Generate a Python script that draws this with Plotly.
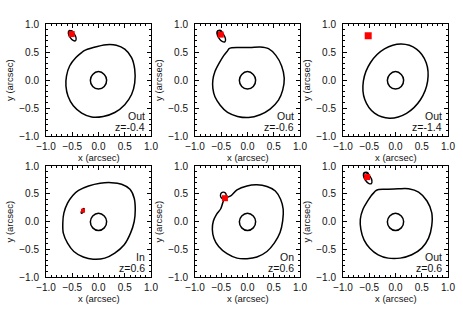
import plotly.graph_objects as go

# ---------------- data ----------------
tick_vals = [-1.0, -0.5, 0.0, 0.5, 1.0]
tick_text = ["\u22121.0", "\u22120.5", "0.0", "0.5", "1.0"]

panel_kind = ["Out", "Out", "Out", "In", "On", "Out"]
panel_z = ["z=-0.4", "z=-0.6", "z=-1.4", "z=0.6", "z=0.6", "z=0.6"]

# shared central (radial) curve
inner_x = [0.155, 0.110, 0.0, -0.110, -0.155, -0.110, 0.0, 0.110, 0.155]
inner_y = [0.0, 0.100, 0.150, 0.100, -0.005, -0.115, -0.160, -0.115, 0.0]

# panel 1 (Out, z=-0.4)
p1_outer_x = [-0.28, -0.10, 0.15, 0.34, 0.50, 0.63, 0.69, 0.69, 0.63, 0.50, 0.31, 0.09, -0.13, -0.32,
              -0.48, -0.58, -0.62, -0.61, -0.55, -0.43, -0.32, -0.28]
p1_outer_y = [0.52, 0.58, 0.63, 0.62, 0.55, 0.40, 0.19, -0.05, -0.26, -0.44, -0.58, -0.65, -0.66, -0.59,
              -0.46, -0.29, -0.11, 0.07, 0.25, 0.40, 0.49, 0.52]
p1_loop_x = [-0.437, -0.427, -0.459, -0.516, -0.563, -0.574, -0.541, -0.484, -0.437]
p1_loop_y = [0.700, 0.747, 0.819, 0.874, 0.880, 0.833, 0.761, 0.706, 0.700]
p1_ring_x = [-0.48, -0.492, -0.52, -0.548, -0.56, -0.548, -0.52, -0.492, -0.48]
p1_ring_y = [0.84, 0.868, 0.88, 0.868, 0.84, 0.812, 0.80, 0.812, 0.84]
p1_src = (-0.51, 0.82)

# panel 2 (Out, z=-0.6)
p2_outer_x = [-0.35, -0.30, -0.17, 0.05, 0.24, 0.40, 0.54, 0.65, 0.70, 0.67, 0.59, 0.43, 0.24, 0.02,
              -0.19, -0.38, -0.52, -0.62, -0.66, -0.66, -0.62, -0.54, -0.45, -0.38, -0.35]
p2_outer_y = [0.56, 0.575, 0.58, 0.58, 0.59, 0.56, 0.44, 0.25, 0.03, -0.18, -0.36, -0.52, -0.62, -0.67,
              -0.65, -0.58, -0.45, -0.30, -0.15, 0.00, 0.15, 0.30, 0.44, 0.52, 0.56]
p2_loop_x = [-0.431, -0.419, -0.455, -0.517, -0.569, -0.581, -0.545, -0.483, -0.431]
p2_loop_y = [0.682, 0.733, 0.812, 0.872, 0.878, 0.827, 0.748, 0.688, 0.682]
p2_ring_x = [-0.485, -0.498, -0.53, -0.562, -0.575, -0.562, -0.53, -0.498, -0.485]
p2_ring_y = [0.845, 0.877, 0.89, 0.877, 0.845, 0.813, 0.80, 0.813, 0.845]
p2_src = (-0.51, 0.81)

# panel 3 (Out, z=-1.4)
p3_outer_x = [0.40, 0.11, -0.21, -0.475, -0.612, -0.585, -0.40, -0.11, 0.21, 0.475, 0.612, 0.585, 0.40]
p3_outer_y = [0.553, 0.643, 0.555, 0.313, -0.019, -0.350, -0.593, -0.683, -0.595, -0.353, -0.021, 0.310, 0.553]
p3_src = (-0.52, 0.79)

# panel 4 (In, z=0.6)
p4_outer_x = [-0.38, -0.19, 0.03, 0.25, 0.44, 0.60, 0.68, 0.70, 0.68, 0.61, 0.49, 0.31, 0.12, -0.10,
              -0.29, -0.47, -0.59, -0.67, -0.68, -0.66, -0.59, -0.49, -0.38]
p4_outer_y = [0.56, 0.64, 0.69, 0.70, 0.67, 0.58, 0.42, 0.21, 0.00, -0.21, -0.42, -0.57, -0.66, -0.68,
              -0.64, -0.54, -0.39, -0.21, -0.03, 0.15, 0.33, 0.47, 0.56]
p4_blob_x = [-0.275, -0.294, -0.317, -0.330, -0.325, -0.306, -0.283, -0.270, -0.275]
p4_blob_y = [0.233, 0.227, 0.200, 0.167, 0.147, 0.153, 0.180, 0.213, 0.233]
p4_src = (-0.295, 0.195)

# panel 5 (On, z=0.6)
p5_outer_x = [-0.40, -0.32, -0.20, -0.01, 0.18, 0.37, 0.53, 0.63, 0.68, 0.67, 0.62, 0.51, 0.37, 0.18,
              -0.01, -0.20, -0.39, -0.55, -0.64, -0.67, -0.65, -0.59, -0.51, -0.47, -0.44, -0.40]
p5_outer_y = [0.43, 0.46, 0.57, 0.64, 0.66, 0.63, 0.55, 0.40, 0.22, 0.01, -0.20, -0.39, -0.54, -0.64,
              -0.67, -0.66, -0.58, -0.45, -0.30, -0.14, 0.01, 0.13, 0.23, 0.34, 0.41, 0.43]
p5_loop_x = [-0.405, -0.421, -0.46, -0.499, -0.515, -0.499, -0.46, -0.421, -0.405]
p5_loop_y = [0.47, 0.512, 0.53, 0.512, 0.47, 0.428, 0.41, 0.428, 0.47]
p5_src = (-0.43, 0.42)

# panel 6 (Out, z=0.6)
p6_outer_x = [-0.38, -0.32, -0.20, 0.05, 0.25, 0.44, 0.60, 0.69, 0.69, 0.63, 0.50, 0.31, 0.09, -0.14,
              -0.33, -0.49, -0.60, -0.66, -0.67, -0.62, -0.53, -0.46, -0.41, -0.38]
p6_outer_y = [0.55, 0.575, 0.58, 0.59, 0.59, 0.53, 0.37, 0.16, -0.08, -0.30, -0.48, -0.60, -0.66, -0.66,
              -0.60, -0.48, -0.33, -0.14, 0.04, 0.22, 0.37, 0.47, 0.52, 0.55]
p6_loop_x = [-0.461, -0.449, -0.485, -0.547, -0.599, -0.611, -0.575, -0.513, -0.461]
p6_loop_y = [0.682, 0.733, 0.812, 0.872, 0.878, 0.827, 0.748, 0.688, 0.682]
p6_ring_x = [-0.515, -0.528, -0.56, -0.592, -0.605, -0.592, -0.56, -0.528, -0.515]
p6_ring_y = [0.845, 0.877, 0.89, 0.877, 0.845, 0.813, 0.80, 0.813, 0.845]
p6_src = (-0.54, 0.80)

# ---------------- layout geometry (pixels) ----------------
W, H = 463, 309
col_px = [(46, 151), (195, 300), (343, 448)]
row_px = [(24, 136), (166, 277)]
FONT = "Liberation Sans, Arial, sans-serif"
INK = "#000000"
TXT = "#111111"

fig = go.Figure()

panels = [
    dict(outer=(p1_outer_x, p1_outer_y), extra=[(p1_loop_x, p1_loop_y), (p1_ring_x, p1_ring_y)], src=p1_src, ss=6),
    dict(outer=(p2_outer_x, p2_outer_y), extra=[(p2_loop_x, p2_loop_y), (p2_ring_x, p2_ring_y)], src=p2_src, ss=6),
    dict(outer=(p3_outer_x, p3_outer_y), extra=[], src=p3_src, ss=7),
    dict(outer=(p4_outer_x, p4_outer_y), extra=[], blob=(p4_blob_x, p4_blob_y), src=p4_src, ss=4),
    dict(outer=(p5_outer_x, p5_outer_y), extra=[(p5_loop_x, p5_loop_y)], src=p5_src, ss=6),
    dict(outer=(p6_outer_x, p6_outer_y), extra=[(p6_loop_x, p6_loop_y), (p6_ring_x, p6_ring_y)], src=p6_src, ss=6),
]

annotations = []
for i, p in enumerate(panels):
    n = i + 1
    r, c = divmod(i, 3)
    xa = "x" if n == 1 else f"x{n}"
    ya = "y" if n == 1 else f"y{n}"
    fig.add_trace(go.Scatter(x=p["outer"][0], y=p["outer"][1], mode="lines",
                             line=dict(color=INK, width=1.5, shape="spline", smoothing=0.9),
                             xaxis=xa, yaxis=ya, showlegend=False, hoverinfo="skip"))
    fig.add_trace(go.Scatter(x=inner_x, y=inner_y, mode="lines", line=dict(color=INK, width=1.5, shape="spline"),
                             xaxis=xa, yaxis=ya, showlegend=False, hoverinfo="skip"))
    for ex, ey in p["extra"]:
        fig.add_trace(go.Scatter(x=ex, y=ey, mode="lines", line=dict(color=INK, width=1.4, shape="spline"),
                                 xaxis=xa, yaxis=ya, showlegend=False, hoverinfo="skip"))
    if "blob" in p:
        fig.add_trace(go.Scatter(x=p["blob"][0], y=p["blob"][1], mode="lines", fill="toself", fillcolor=INK,
                                 line=dict(color=INK, width=1.4, shape="spline"),
                                 xaxis=xa, yaxis=ya, showlegend=False, hoverinfo="skip"))
    fig.add_trace(go.Scatter(x=[p["src"][0]], y=[p["src"][1]], mode="markers",
                             marker=dict(symbol="square", size=p["ss"], color="#ff0000", line=dict(width=0)),
                             xaxis=xa, yaxis=ya, showlegend=False, hoverinfo="skip"))

    x0, x1 = col_px[c]
    y0, y1 = row_px[r]
    xd = [x0 / W, x1 / W]
    yd = [1 - y1 / H, 1 - y0 / H]
    axcommon = dict(range=[-1, 1], tickvals=tick_vals, ticktext=tick_text, ticks="inside", ticklen=4,
                    tickwidth=1, tickcolor=INK, showline=True, linecolor=INK, linewidth=1, mirror="ticks",
                    showgrid=False, zeroline=False, fixedrange=True, automargin=False,
                    tickfont=dict(family=FONT, size=10, color=TXT),
                    minor=dict(dtick=0.1, tick0=0, ticks="inside", ticklen=2, tickwidth=1, tickcolor=INK, showgrid=False))
    fig.update_layout({
        ("xaxis" if n == 1 else f"xaxis{n}"): dict(domain=xd, anchor=ya, ticklabelstandoff=1, **axcommon),
        ("yaxis" if n == 1 else f"yaxis{n}"): dict(domain=yd, anchor=xa, ticklabelstandoff=4, **axcommon),
    })

    # labels inside the box
    annotations.append(dict(x=0.92, y=-0.64, xref=xa, yref=ya, text=panel_kind[i], showarrow=False,
                            xanchor="right", yanchor="middle", font=dict(family=FONT, size=10.5, color=TXT)))
    annotations.append(dict(x=0.92, y=-0.84, xref=xa, yref=ya, text=panel_z[i], showarrow=False,
                            xanchor="right", yanchor="middle", font=dict(family=FONT, size=10.5, color=TXT)))
    # axis titles
    annotations.append(dict(x=(x0 + x1) / 2 / W, y=1 - (y1 + 21) / H, xref="paper", yref="paper",
                            text="x (arcsec)", showarrow=False, xanchor="center", yanchor="middle",
                            font=dict(family=FONT, size=9.5, color=TXT)))
    annotations.append(dict(x=(x0 - 37) / W, y=1 - (y0 + y1) / 2 / H, xref="paper", yref="paper",
                            text="y (arcsec)", showarrow=False, textangle=-90, xanchor="center", yanchor="middle",
                            font=dict(family=FONT, size=9.5, color=TXT)))

fig.update_layout(width=W, height=H, margin=dict(l=0, r=0, t=0, b=0, pad=0, autoexpand=False),
                  paper_bgcolor="white", plot_bgcolor="white", annotations=annotations, showlegend=False)

fig.write_html("out.html", config={"displayModeBar": False, "staticPlot": True},
               post_script="document.body.style.margin='0';document.body.style.overflow='hidden';")
